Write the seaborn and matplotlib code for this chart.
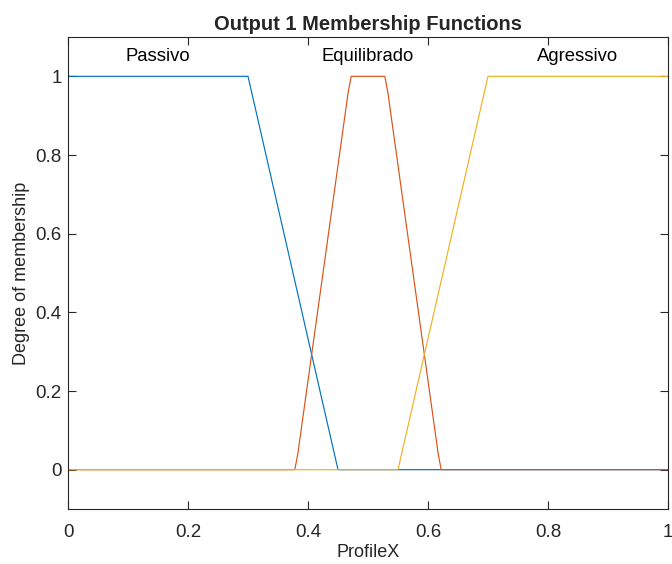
"""Output 1 membership functions (fuzzy profile) redrawn with seaborn."""

import numpy as np
import pandas as pd
import matplotlib
matplotlib.use("Agg")
import matplotlib.pyplot as plt
import seaborn as sns

# Membership functions, vertices
mf_names = ["Passivo", "Equilibrado", "Agressivo"]

passivo_x = [0.0, 0.30, 0.45, 1.0]
passivo_y = [1.0, 1.0, 0.0, 0.0]

equilibrado_x = [0.0, 0.378, 0.383, 0.467, 0.472, 0.528, 0.533, 0.617, 0.622, 1.0]
equilibrado_y = [0.0, 0.0, 0.04, 0.96, 1.0, 1.0, 0.96, 0.04, 0.0, 0.0]

agressivo_x = [0.0, 0.55, 0.70, 1.0]
agressivo_y = [0.0, 0.0, 1.0, 1.0]

# Label positions (centre of each MF)
label_x = [0.15, 0.50, 0.85]

x_ticks = [0, 0.2, 0.4, 0.6, 0.8, 1]
x_tick_labels = ["0", "0.2", "0.4", "0.6", "0.8", "1"]
y_ticks = [0, 0.2, 0.4, 0.6, 0.8, 1]
y_tick_labels = ["0", "0.2", "0.4", "0.6", "0.8", "1"]

# Long-form table for seaborn
frames = []
for name, xs, ys in zip(mf_names,
                        [passivo_x, equilibrado_x, agressivo_x],
                        [passivo_y, equilibrado_y, agressivo_y]):
    frames.append(pd.DataFrame({"x": xs, "y": ys, "mf": name}))
data = pd.concat(frames, ignore_index=True)

# Style
sns.set_style("ticks")
plt.rcParams["font.family"] = ["Liberation Sans", "DejaVu Sans"]
axis_color = "#262626"
palette = {"Passivo": "#0072BD", "Equilibrado": "#D95319", "Agressivo": "#EDB120"}

fig = plt.figure(figsize=(6.72, 5.64), dpi=100)
ax = fig.add_axes([68 / 672, 1 - 509 / 564, 600 / 672, (509 - 37) / 564])

sns.lineplot(data=data, x="x", y="y", hue="mf", hue_order=mf_names, palette=palette,
             estimator=None, sort=False, linewidth=0.85, legend=False, ax=ax)

# MF labels above each function
for name, lx in zip(mf_names, label_x):
    ax.text(lx, 1.05, name, ha="center", va="center", fontsize=13.3, color="black")

ax.set_xlim(0, 1)
ax.set_ylim(-0.1, 1.1)
ax.set_xticks(x_ticks)
ax.set_xticklabels(x_tick_labels)
ax.set_yticks(y_ticks)
ax.set_yticklabels(y_tick_labels)

ax.tick_params(direction="in", length=6, width=0.8, colors=axis_color, labelsize=13.5,
               top=True, right=True)
ax.tick_params(axis="x", pad=11)
ax.tick_params(axis="y", pad=4.5)
for spine in ax.spines.values():
    spine.set_visible(True)
    spine.set_color(axis_color)
    spine.set_linewidth(0.8)

ax.set_xlabel("ProfileX", fontsize=13, color=axis_color, labelpad=2)
ax.set_ylabel("Degree of membership", fontsize=13, color=axis_color, labelpad=4)
ax.set_title("Output 1 Membership Functions", fontsize=14.5, fontweight="bold", pad=5)

fig.savefig("out.png", dpi=100)
